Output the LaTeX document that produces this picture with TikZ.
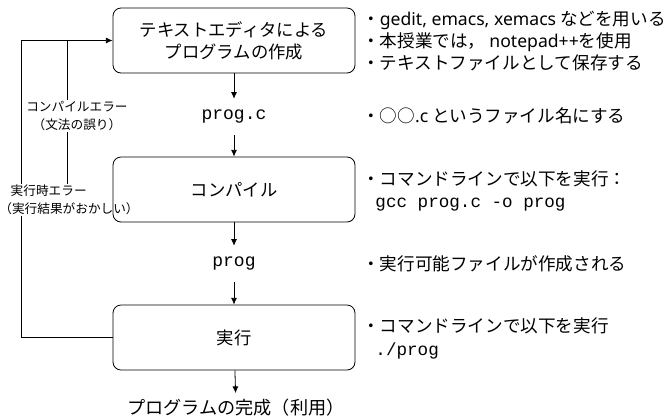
\documentclass[tikz,border=0pt]{standalone}
\usepackage{fontspec}
\setmainfont{Noto Sans CJK JP}
\setmonofont{Liberation Mono}
\newfontfamily\latfont{Noto Sans}
\usetikzlibrary{positioning,calc,arrows.meta,backgrounds}

\tikzset{
  stepbox/.style={draw, rounded corners=6pt, minimum width=181.5pt, minimum height=48.75pt,
    align=center, line width=0.6pt, font=\fontsize{13}{16.5}\selectfont},
  filetext/.style={inner sep=0pt, minimum height=27pt, font=\fontsize{13.5}{16}\selectfont\ttfamily},
  note/.style={anchor=west, align=left, inner sep=0pt, font=\fontsize{13.2}{16.5}\selectfont},
  errlabel/.style={fill=white, inner sep=1pt, font=\fontsize{9.5}{13.5}\selectfont},
  flow/.style={-{Latex[length=5pt,width=4.5pt]}, line width=0.6pt},
}

\begin{document}
\begin{tikzpicture}[x=0.75pt, y=-0.75pt]
    \useasboundingbox (0,0) rectangle (664,419);

    % steps of the work
    \node[stepbox] (edit) at (234,40.5) {テキストエディタによる\\プログラムの作成};
    \node[filetext] (progc) at (234,117) {prog.c};
    \node[stepbox] (compile) at (234,189.5) {コンパイル};
    \node[filetext] (prog) at (234,264) {prog};
    \node[stepbox] (run) at (234,337.5) {実行};
    \node[inner sep=0pt, minimum height=22pt, font=\fontsize{13.6}{16}\selectfont] (done) at (236,408) {プログラムの完成（利用）};

    \draw[flow] (edit) -- (progc);
    \draw[flow] (progc) -- (compile);
    \draw[flow] (compile) -- (prog);
    \draw[flow] (prog) -- (run);
    \draw[flow] (run) -- (done);

    % going back on errors
    \coordinate (loopout) at (21,0);
    \coordinate (loopin) at (67,0);
    \begin{scope}[on background layer]
        \draw[flow] (run.west) -- (loopout |- run.west) -- (loopout |- edit.west) -- (edit.west);
        \draw[line width=0.6pt] (compile.west) -- (loopin |- compile.west) -- (loopin |- edit.west);
        \node[errlabel, align=center] (cerr) at (77,116) {コンパイルエラー\\（文法の誤り）};
        \node[errlabel, align=left] (rerr) at (69,200) {\hspace*{0.9em}実行時エラー\\（実行結果がおかしい）};
    \end{scope}

    % notes
    \node[note] (editnote) at (362,41.5) {・{\latfont gedit, emacs, xemacs} などを用いる\\・本授業では， {\latfont notepad++}を使用\\・テキストファイルとして保存する};
    \node[note] (progcnote) at (362,116) {・○○{\latfont .c} というファイル名にする};
    \node[note] (compilenote) at (362,191) {・コマンドラインで以下を実行：\\\hspace*{0.75em}{\fontsize{13.2}{16.5}\selectfont\ttfamily gcc prog.c -o prog}};
    \node[note] (prognote) at (362,264) {・実行可能ファイルが作成される};
    \node[note, font=\fontsize{13.2}{17.3}\selectfont] (runnote) at (362,338.5) {・コマンドラインで以下を実行\\\hspace*{0.75em}{\fontsize{13.2}{17.3}\selectfont\ttfamily ./prog}};
\end{tikzpicture}
\end{document}
